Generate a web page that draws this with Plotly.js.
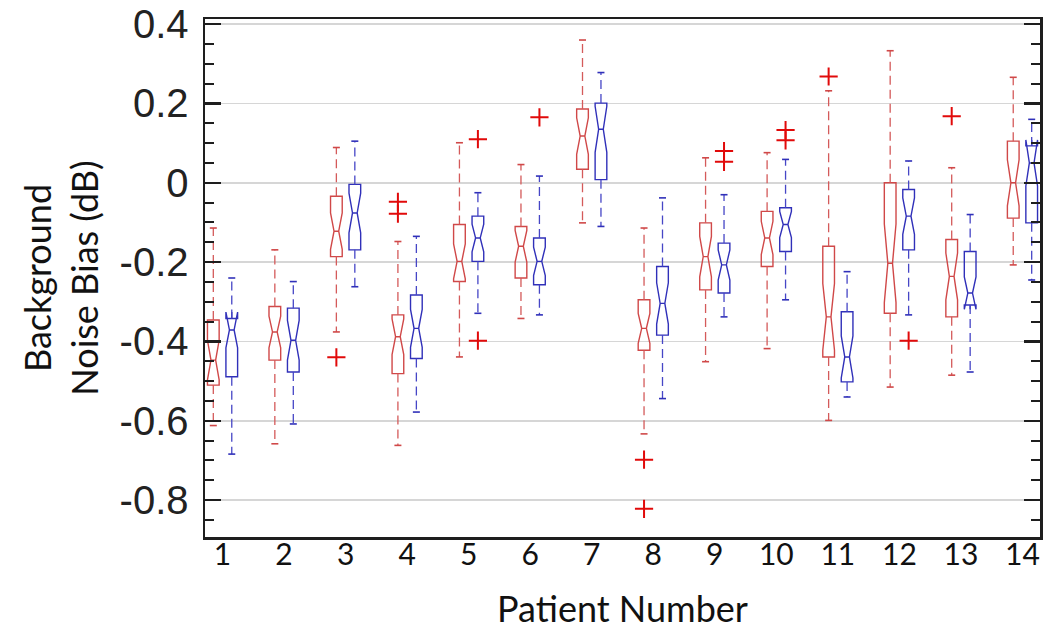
<!DOCTYPE html>
<html>
<head>
<meta charset="utf-8">
<script src="https://cdn.plot.ly/plotly-3.0.1.min.js"></script>
<style>html,body{margin:0;padding:0;background:#fff;}#chart{width:1050px;height:642px;}</style>
</head>
<body>
<div id="chart"></div>
<script>
// ---- data ----
const patients = [1,2,3,4,5,6,7,8,9,10,11,12,13,14];
const tickLabels = ["1","2","3","4","5","6","7","8","9","10","11","12","13","14"];
const yTickVals = [-0.8,-0.6,-0.4,-0.2,0,0.2,0.4];
const yTickText = ["-0.8","-0.6","-0.4","-0.2","0","0.2","0.4"];

const redQ1  = [-0.510,-0.447,-0.186,-0.481,-0.249,-0.240, 0.034,-0.422,-0.270,-0.211,-0.439,-0.329,-0.338,-0.089];
const redMed = [-0.447,-0.376,-0.122,-0.388,-0.198,-0.160, 0.118,-0.367,-0.186,-0.139,-0.338,-0.203,-0.236, 0.000];
const redQ3  = [-0.346,-0.312,-0.034,-0.333,-0.105,-0.110, 0.186,-0.295,-0.101,-0.072,-0.160, 0.000,-0.143, 0.105];
const redLo  = [-0.612,-0.658,-0.376,-0.662,-0.439,-0.342,-0.101,-0.633,-0.451,-0.418,-0.599,-0.515,-0.485,-0.207];
const redHi  = [-0.114,-0.169, 0.089,-0.148, 0.101, 0.046, 0.360,-0.114, 0.063, 0.076, 0.232, 0.333, 0.038, 0.266];
const redNotch = [0.050,0.040,0.046,0.045,0.044,0.040,0.046,0.038,0.051,0.042,0.084,0.099,0.059,0.058];

const blueQ1  = [-0.489,-0.477,-0.169,-0.443,-0.198,-0.257, 0.008,-0.384,-0.278,-0.173,-0.502,-0.169,-0.308,-0.101];
const blueMed = [-0.371,-0.397,-0.076,-0.367,-0.139,-0.198, 0.135,-0.304,-0.207,-0.105,-0.439,-0.084,-0.278, 0.050];
const blueQ3  = [-0.342,-0.316,-0.004,-0.283,-0.084,-0.139, 0.201,-0.211,-0.152,-0.063,-0.325,-0.017,-0.173, 0.093];
const blueLo  = [-0.684,-0.608,-0.262,-0.578,-0.329,-0.333,-0.110,-0.544,-0.338,-0.295,-0.540,-0.333,-0.477,-0.245];
const blueHi  = [-0.240,-0.249, 0.105,-0.135,-0.025, 0.017, 0.278,-0.038,-0.030, 0.059,-0.224, 0.055,-0.080, 0.160];
const blueNotch = [0.045,0.050,0.050,0.048,0.035,0.036,0.058,0.052,0.038,0.033,0.053,0.046,0.041,0.058];

const redOutP  = [3, 4, 4, 8, 8, 11, 13];
const redOutV  = [-0.440,-0.048,-0.078,-0.698,-0.822, 0.268, 0.168];
const blueOutP = [5, 5, 6, 9, 9, 10, 10, 12];
const blueOutV = [0.110,-0.398, 0.165, 0.080, 0.053, 0.133, 0.107,-0.398];

// ---- styling ----
const OFF = 0.15, BOXW = 0.19;
const RED = 'rgb(208,72,72)', RED_W = 'rgb(212,90,90)';
const BLUE = 'rgb(48,48,185)', BLUE_W = 'rgb(70,70,198)';
const OUT = 'rgb(225,10,10)';

function series(off, q1, med, q3, lo, hi, notch, col, wcol, outP, outV) {
  const xs = patients.map(p => p + off);
  const wx = [], wy = [];
  xs.forEach((x, i) => { wx.push(x, x, null, x, x, null); wy.push(q3[i], hi[i], null, q1[i], lo[i], null); });
  const cx = [], cy = [];
  xs.forEach((x, i) => { cx.push(x, x); cy.push(hi[i], lo[i]); });
  return [
    {type:'scatter', mode:'lines', x:wx, y:wy, connectgaps:false, hoverinfo:'skip',
     line:{color:wcol, width:1.3, dash:'9px,5px'}, showlegend:false},
    {type:'scatter', mode:'markers', x:cx, y:cy, hoverinfo:'skip', showlegend:false,
     marker:{symbol:'line-ew', size:5, line:{color:col, width:1.6}}},
    {type:'box', x:xs, q1:q1, median:med, q3:q3, lowerfence:q1, upperfence:q3,
     notched:true, notchspan:notch, notchwidth:0.3, width:BOXW, whiskerwidth:0,
     boxpoints:false, fillcolor:'rgba(0,0,0,0)', line:{color:col, width:1.4}, showlegend:false},
    {type:'scatter', mode:'markers', x:outP.map(p => p + off), y:outV, showlegend:false,
     marker:{symbol:'cross-thin', size:13, line:{color:OUT, width:2}}}
  ];
}

const data = [].concat(
  series(-OFF, redQ1, redMed, redQ3, redLo, redHi, redNotch, RED, RED_W, redOutP, redOutV),
  series(OFF, blueQ1, blueMed, blueQ3, blueLo, blueHi, blueNotch, BLUE, BLUE_W, blueOutP, blueOutV)
);

const layout = {
  width:1050, height:642,
  margin:{l:205, r:10, t:19, b:105},
  paper_bgcolor:'#fff', plot_bgcolor:'#fff',
  boxmode:'overlay', showlegend:false,
  xaxis:{
    range:[0.715, 14.285], tickmode:'array', tickvals:patients, ticktext:tickLabels,
    showgrid:false, zeroline:false, ticks:'outside', ticklen:1, tickcolor:'rgba(0,0,0,0)',
    ticklabelstandoff:-12, showline:true, mirror:true,
    linecolor:'#1e1e1e', linewidth:2.5,
    tickfont:{family:'Lato, sans-serif', size:30, color:'#111'},
    title:{text:'Patient Number', font:{family:'Lato, sans-serif', size:36, color:'#111'}, standoff:28}
  },
  yaxis:{
    range:[-0.893, 0.413], tickmode:'array', tickvals:yTickVals, ticktext:yTickText,
    showgrid:true, gridcolor:'#d6d6d6', gridwidth:1.5,
    zeroline:false, showline:true, mirror:'ticks', linecolor:'#1e1e1e', linewidth:2.5,
    ticks:'inside', ticklen:16, tickwidth:2.2, tickcolor:'#1e1e1e',
    minor:{dtick:0.05, tick0:0, ticks:'inside', ticklen:9, tickwidth:2, tickcolor:'#1e1e1e', showgrid:false},
    tickfont:{family:'Liberation Sans, Arial, sans-serif', size:40, color:'#222'}, ticklabelstandoff:6,
    title:{text:'Background<br>Noise Bias (dB)', font:{family:'Lato, sans-serif', size:36, color:'#111'}, standoff:10}
  }
};

Plotly.newPlot('chart', data, layout, {displayModeBar:false, staticPlot:true});
</script>
</body>
</html>
